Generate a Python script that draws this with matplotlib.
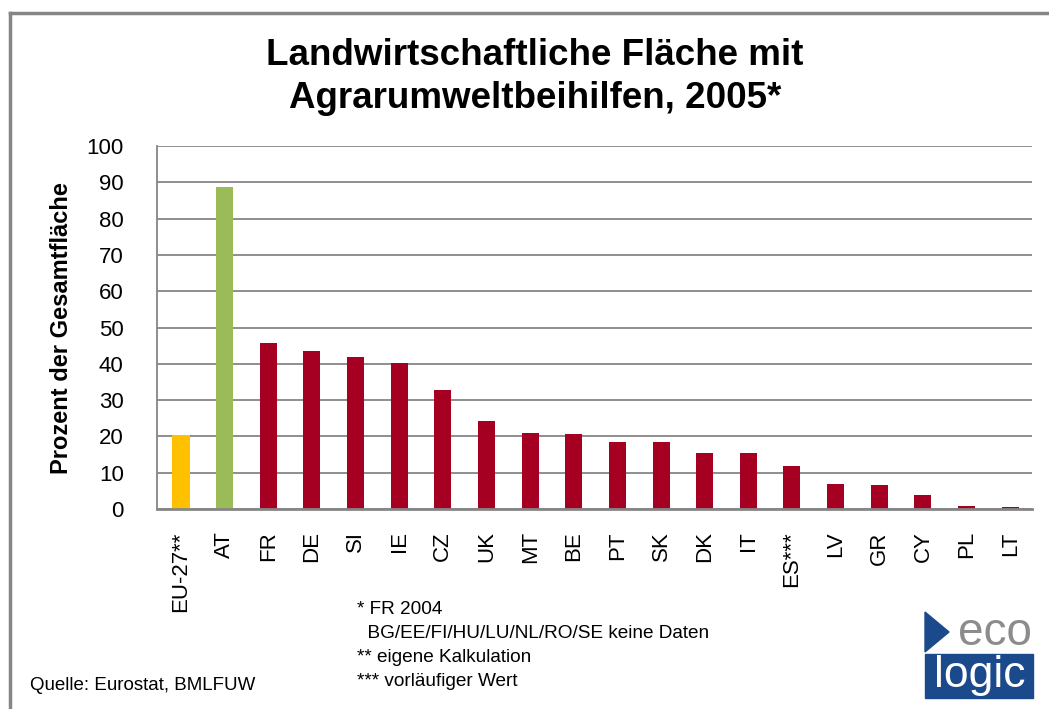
import matplotlib
matplotlib.use("Agg")
import matplotlib.pyplot as plt
import matplotlib.patches as patches
import numpy as np

plt.rcParams['font.family'] = ['Liberation Sans', 'DejaVu Sans']

countries = ['EU-27**', 'AT', 'FR', 'DE', 'SI', 'IE', 'CZ', 'UK', 'MT', 'BE',
             'PT', 'SK', 'DK', 'IT', 'ES***', 'LV', 'GR', 'CY', 'PL', 'LT']
values = [20.4, 88.8, 45.7, 43.5, 41.9, 40.2, 32.8, 24.3, 21.0, 20.7,
          18.5, 18.5, 15.5, 15.5, 11.9, 7.0, 6.7, 3.9, 0.9, 0.6]
yticks = [0, 10, 20, 30, 40, 50, 60, 70, 80, 90, 100]

colors = ['#FFC000', '#9BBB59'] + ['#A50021'] * (len(countries) - 2)
grey = '#868686'

W, H = 1049, 709
fig = plt.figure(figsize=(W / 100, H / 100), dpi=100)

# plot area in pixels
left, right, top, bottom = 157, 1032, 146, 509
ax = fig.add_axes([left / W, 1 - bottom / H, (right - left) / W, (bottom - top) / H])

x = np.arange(len(countries))
ax.bar(x, values, width=0.39, color=colors, zorder=3)

ax.set_xlim(-0.55, len(countries) - 0.5)
ax.set_ylim(0, 100)
ax.set_yticks(yticks)
ax.set_xticks(x)
ax.set_xticklabels(countries, rotation=90, fontsize=16)
ax.tick_params(axis='y', length=0, pad=24, labelsize=16)
ax.tick_params(axis='x', length=0, pad=16)
ax.yaxis.grid(True, color=grey, linewidth=1.3, zorder=0)
for s in ['top', 'right']:
    ax.spines[s].set_visible(False)
ax.spines['left'].set_color(grey)
ax.spines['left'].set_linewidth(1.3)
ax.spines['bottom'].set_color(grey)
ax.spines['bottom'].set_linewidth(2)
ax.spines['bottom'].set_zorder(4)

# title and axis label
fig.text(535 / W, 1 - 77 / H, 'Landwirtschaftliche Fläche mit\nAgrarumweltbeihilfen, 2005*',
         ha='center', va='center', fontsize=26.5, fontweight='bold', linespacing=1.3)
fig.text(62 / W, 1 - 328 / H, 'Prozent der Gesamtfläche', rotation=90,
         ha='center', va='center', fontsize=17, fontweight='bold')

# footnotes
notes = ['* FR 2004', '  BG/EE/FI/HU/LU/NL/RO/SE keine Daten', '** eigene Kalkulation', '*** vorläufiger Wert']
for i, n in enumerate(notes):
    fig.text(357 / W, 1 - (610 + i * 23.7) / H, n, ha='left', va='center', fontsize=13.7)
fig.text(30 / W, 1 - 686 / H, 'Quelle: Eurostat, BMLFUW', ha='left', va='center', fontsize=13.5)

# frame lines on top and left
fig.add_artist(plt.Line2D([10 / W, 1], [1 - 13 / H, 1 - 13 / H], color=grey, linewidth=2.5))
fig.add_artist(plt.Line2D([10 / W, 10 / W], [0, 1 - 13 / H], color=grey, linewidth=2.5))

# ecologic logo
blue = '#1B4A8C'
tri = patches.Polygon([[925 / W, 1 - 612 / H], [949 / W, 1 - 632 / H], [925 / W, 1 - 652 / H]],
                      closed=True, transform=fig.transFigure, color=blue)
fig.add_artist(tri)
box = patches.Rectangle((925 / W, 1 - 698 / H), 108 / W, 44 / H,
                        transform=fig.transFigure, color=blue)
fig.add_artist(box)
fig.text(995 / W, 1 - 633 / H, 'eco', ha='center', va='center', fontsize=33, color='#8C8C8C')
fig.text(980 / W, 1 - 676 / H, 'logic', ha='center', va='center', fontsize=32, color='white')

fig.savefig('out.png', dpi=100)
